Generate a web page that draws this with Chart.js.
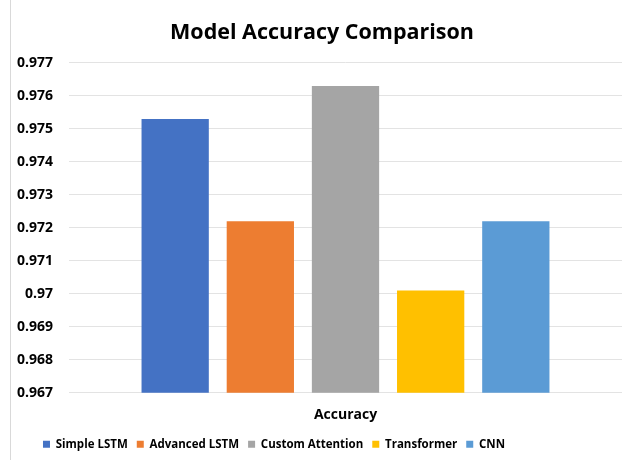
<!DOCTYPE html>
<html>
<head>
<meta charset="utf-8">
<script src="https://cdn.jsdelivr.net/npm/chart.js@4"></script>
<style>
    html, body { margin: 0; padding: 0; background: #fff; }
    #wrap { position: relative; width: 622px; height: 460px; }
    #frame { position: absolute; left: 10px; top: 0; width: 0; height: 460px; border-left: 1px solid #d9d9d9; }
</style>
</head>
<body>
<div id="wrap">
    <canvas id="chart" width="622" height="460"></canvas>
    <div id="frame"></div>
</div>
<script>
    const categories = ["Accuracy"];
    const models = ["Simple LSTM", "Advanced LSTM", "Custom Attention", "Transformer", "CNN"];
    const accuracy = [0.9753, 0.9722, 0.9763, 0.9701, 0.9722];
    const colors = ["#4472C4", "#ED7D31", "#A5A5A5", "#FFC000", "#5B9BD5"];
    const yMin = 0.967, yMax = 0.977, yStep = 0.001;

    const FONT = "'Open Sans', 'Noto Sans', sans-serif";

    // shift title / legend sideways (the original chart is wider than the crop)
    const shiftBoxes = {
        id: "shiftBoxes",
        afterLayout(chart) {
            const t = chart.titleBlock;
            if (t) { t.left += 11; t.right += 11; }
            const l = chart.legend;
            if (l) { l.left -= 37; l.right -= 37; }
        }
    };

    const ctx = document.getElementById("chart").getContext("2d");
    new Chart(ctx, {
        type: "bar",
        data: {
            labels: categories,
            datasets: models.map((name, i) => ({
                label: name,
                data: [accuracy[i]],
                backgroundColor: colors[i],
                borderWidth: 0,
                barPercentage: 0.79,
                categoryPercentage: 0.77
            }))
        },
        options: {
            responsive: false,
            animation: false,
            layout: { padding: { left: 0, right: 0, top: 0, bottom: 0 } },
            plugins: {
                title: {
                    display: true,
                    text: "Model Accuracy Comparison",
                    color: "#000",
                    font: { family: FONT, size: 21.5, weight: "bold" },
                    padding: { top: 20, bottom: 17 }
                },
                legend: {
                    position: "bottom",
                    labels: {
                        color: "#000",
                        boxWidth: 7,
                        boxHeight: 7,
                        padding: 9,
                        font: { family: FONT, size: 11.5, weight: "bold" }
                    }
                },
                tooltip: { enabled: false }
            },
            scales: {
                x: {
                    grid: { display: false },
                    border: { display: false },
                    ticks: {
                        color: "#000",
                        padding: 6,
                        font: { family: FONT, size: 14, weight: "bold" }
                    }
                },
                y: {
                    min: yMin,
                    max: yMax,
                    afterFit(scale) { scale.width = 69; },
                    grid: { color: "#e3e3e3", lineWidth: 1, drawTicks: false },
                    border: { display: false },
                    ticks: {
                        stepSize: yStep,
                        color: "#000",
                        padding: 16,
                        font: { family: FONT, size: 14, weight: "bold" },
                        callback: (v) => String(Number(v.toFixed(3)))
                    }
                }
            }
        },
        plugins: [shiftBoxes]
    });
</script>
</body>
</html>
